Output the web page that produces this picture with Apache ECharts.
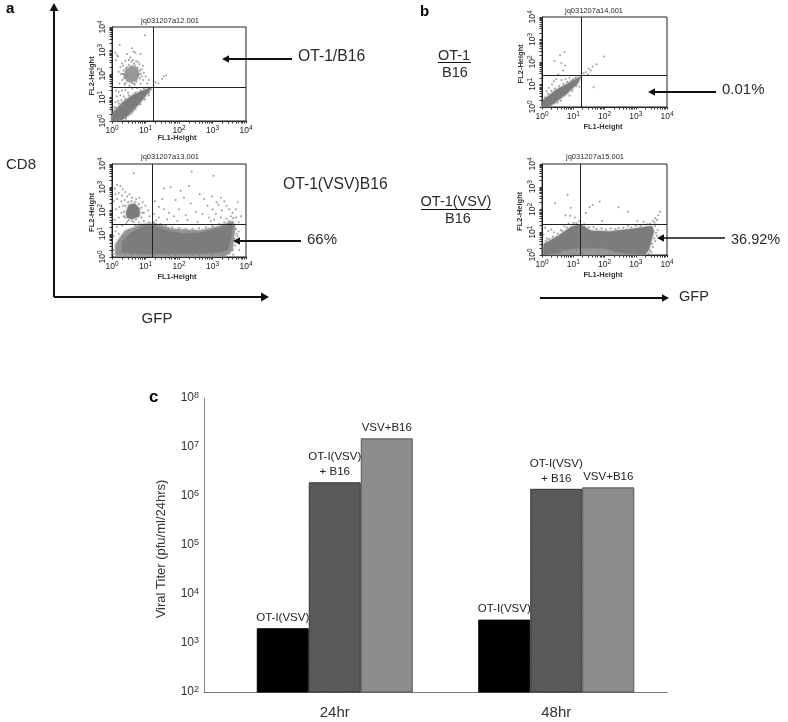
<!DOCTYPE html>
<html><head><meta charset="utf-8">
<style>html,body{margin:0;padding:0;background:#fff}#c{width:788px;height:722px;filter:blur(0.45px)}</style>
<script src="https://cdn.jsdelivr.net/npm/echarts@6/dist/echarts.min.js"></script>
</head><body><div id="c"></div>
<script>
// ---------- Bar panel c ----------
const timepoints = ['24hr', '48hr'];
const otVsv      = [2000, 3000];
const otVsvB16   = [1900000, 1400000];
const vsvB16     = [15000000, 1500000];
const barNames   = ['OT-I(VSV)', 'OT-I(VSV)\n+ B16', 'VSV+B16'];

// ---------- Flow panels: values are log10 decades of FL1 / FL2 ----------
const titles = ['jq031207a12.001', 'jq031207a13.001', 'jq031207a14.001', 'jq031207a15.001'];
const gates = [[1.22, 1.45], [1.21, 1.42], [1.27, 1.39], [1.23, 1.35]];
const decadeTicks = [0,.3,.48,.6,.7,.78,.85,.9,.95,1,1.3,1.48,1.6,1.7,1.78,1.85,1.9,1.95,2,2.3,2.48,2.6,2.7,2.78,2.85,2.9,2.95,3,3.3,3.48,3.6,3.7,3.78,3.85,3.9,3.95,4];

const denseA1 = [[[0,0],[0,.3],[.3,.78],[.63,1.12],[1.03,1.36],[1.21,1.46],[1.0,1.05],[.72,.6],[.43,.17],[.23,0]]];
const midA1 = [[[.36,1.85],[.4,2.15],[.58,2.36],[.76,2.24],[.82,2.0],[.74,1.72],[.52,1.64]]];
const specksA1 = [[.98,3.65],[.23,3.25],[.1,2.9],[.15,2.8],[.6,3.1],[.7,2.9],[.85,2.85],[.55,2.7],[.65,2.95],[.4,2.55],[.5,2.6],[.62,2.6],[.72,2.55],[.3,2.45],[.78,2.5],[.92,2.35],[.25,2.3],[.33,2.35],[.88,2.2],[.95,2.05],[.2,2.1],[.27,2.0],[1.0,1.9],[.93,1.75],[.3,1.75],[.22,1.6],[.38,1.55],[.52,1.5],[.68,1.55],[.85,1.58],[1.05,1.6],[1.1,1.75],[1.3,1.65],[1.38,1.6],[1.55,1.9],[1.62,1.95],[1.5,1.8],[.12,1.3],[.2,1.25],[.3,1.3],[.4,1.32],[.15,1.05],[.25,1.1],[.1,.8],[.18,.85],[.35,1.05],[.48,1.2],[.08,.6],[.05,.45],[.6,1.38],[.75,1.4],[1.15,1.35],[1.1,1.2],[.9,.9],[.8,.72],[.62,.4],[.5,.28],[.12,2.6],[.18,2.75],[.45,2.85],[.32,2.0],[.38,1.95],[.9,1.9],[.44,2.28],[.66,2.45],[.58,2.52],[.82,2.42],
  [.35,2.15],[.36,1.82],[.45,1.7],[.6,1.62],[.72,1.68],[.84,1.82],[.86,2.0],[.83,2.15],[.76,2.28],[.68,2.36],[.5,2.38],[.42,2.22],[.34,2.0],[.4,1.62],[.66,1.58],[.78,1.95],[.45,1.92],[.12,.55],[.2,.75],[.28,.88],[.4,.95],[.5,1.08],[.7,1.2],[.85,1.3],[.95,1.38],[.18,.5],[.32,.7],[.58,.32],[.7,.5],[.85,.72],[.98,.92],[1.1,1.1],[.3,.05],[.42,.1]];

const denseA2 = [[[.28,.2],[.31,.68],[.56,1.03],[.93,1.3],[1.21,1.36],[1.63,1.14],[2.13,1.0],[2.63,1.03],[3.13,1.22],[3.48,1.35],[3.62,1.42],[3.54,.72],[3.44,.28],[3.23,.2],[2.53,.16],[1.53,.14],[.83,.14]],
                 [[.42,1.9],[.5,2.25],[.68,2.3],[.82,2.08],[.82,1.75],[.6,1.62],[.44,1.7]]];
const midA2 = [[[.1,.06],[.1,.55],[.38,1.12],[.9,1.42],[1.3,1.44],[1.8,1.22],[2.6,1.14],[3.2,1.32],[3.6,1.55],[3.68,1.3],[3.6,.3],[3.4,.05],[.2,.05]]];
const specksA2 = [[.65,3.6],[2.38,3.68],[3.03,3.5],[1.55,2.95],[1.75,3.0],[2.05,2.85],[2.3,3.05],[2.62,2.7],[.08,2.95],[.15,3.1],[.25,3.05],[.32,2.9],[.4,2.8],[.1,2.7],[.2,2.75],[.3,2.65],[.45,2.6],[.52,2.7],[.6,2.55],[.72,2.5],[.82,2.55],[.15,2.5],[.28,2.4],[.38,2.45],[.05,2.4],[.92,2.35],[1.0,2.2],[1.08,2.0],[.95,1.9],[1.12,1.75],[.33,2.2],[.22,2.15],[.12,2.05],[.28,1.9],[.2,1.7],[.35,1.75],[.08,1.6],[1.28,2.4],[1.4,2.15],[1.55,2.05],[1.7,1.9],[1.85,1.75],[2.0,2.05],[2.2,1.8],[2.35,2.3],[2.5,1.95],[2.7,1.85],[2.85,2.2],[2.9,1.7],[3.0,2.05],[3.1,1.85],[3.18,2.25],[3.28,2.0],[3.12,2.35],[3.35,2.4],[3.42,2.2],[3.5,2.05],[3.6,1.9],[3.7,2.05],[3.75,2.35],[3.55,1.75],[3.42,1.65],[3.25,1.7],[2.95,1.55],[2.55,1.5],[2.25,1.6],[1.95,1.55],[1.65,1.62],[1.4,1.7],[1.25,1.85],[1.32,1.58],[1.5,2.5],[1.9,2.45],[2.15,2.55],[2.75,2.5],[2.98,2.6],[3.25,2.55],[3.05,1.6],[.05,.9],[.1,1.1],[.2,1.0],[.3,1.35],[.15,1.3],[.42,1.42],[.6,1.55],[.05,.3],[.03,.15],[3.75,.9],[3.78,1.1],[3.68,.5],[3.78,1.5],[3.85,1.75],[3.62,.1],[3.8,.3],[3.3,.06],[2.2,.05],[1.1,.06],
  [.36,1.95],[.4,2.2],[.48,2.35],[.58,2.4],[.7,2.38],[.8,2.28],[.88,2.12],[.9,1.9],[.88,1.7],[.72,1.6],[.5,1.58],[.38,1.7],[.45,1.52],[.65,1.5],[.8,1.5],[.95,1.55],[1.1,1.5],[1.25,1.5],[1.45,1.42],[1.6,1.36],[1.8,1.28],[2.0,1.25],[2.2,1.22],[2.4,1.2],[2.6,1.24],[2.8,1.28],[3.0,1.32],[3.2,1.42],[3.35,1.5],[3.5,1.55],[3.62,1.68],[3.7,1.7],[3.7,1.2],[3.72,1.0],[3.65,.8],[3.6,.3],[.16,.4],[.22,.7],[.32,.9],[.5,1.15],[.7,1.35],[.2,.2],[.4,.12],[.6,.1],[.8,.08],[1.3,.1],[1.5,.08],[1.7,.1],[1.9,.08],[2.4,.1],[2.6,.08],[2.8,.1],[3.0,.08],[3.5,.15]];

const denseB1 = [[[0,0],[.03,.3],[.41,.72],[.89,1.1],[1.27,1.39],[1.14,1.05],[.78,.58],[.35,.12],[.14,0]]];
const midB1 = [];
const specksB1 = [[.58,2.3],[.72,2.45],[.4,2.05],[.62,1.95],[.75,1.85],[.68,1.62],[.52,1.45],[.45,1.25],[.32,1.0],[.22,.85],[.15,.7],[.62,1.2],[.75,1.25],[.88,1.3],[1.0,1.25],[1.08,1.3],[1.1,.95],[1.2,.9],[1.4,1.55],[1.5,1.7],[1.62,1.8],[1.47,1.45],[1.75,1.9],[1.98,2.25],[1.65,.88],[.97,.72],[.88,.5],[.6,.28],[.5,.2],[.38,1.15],[.85,1.05],[1.12,1.18],[1.33,1.5],[1.56,1.62],
  [.1,.42],[.2,.58],[.3,.72],[.42,.82],[.55,.92],[.68,1.02],[.8,1.12],[.95,1.18],[1.05,1.0],[.9,.82],[.72,.55],[.55,.4],[.4,.18],[.28,.08],[.2,.02]];

const denseB2 = [[[.05,.02],[.05,.48],[.51,.84],[.94,1.24],[1.23,1.34],[1.57,1.07],[2.15,1.03],[2.91,1.15],[3.52,1.28],[3.58,1.03],[3.42,.24],[3.3,.03],[2.4,.12],[2.1,.28],[1.4,.33],[.75,.25],[.55,.1]]];
const midB2 = [[[.05,.02],[.05,.32],[.6,.42],[2.4,.42],[3.4,.32],[3.3,.02]]];
const specksB2 = [[.82,2.65],[.42,2.27],[.92,2.08],[.75,1.75],[.9,1.72],[1.05,1.65],[1.18,1.48],[1.4,1.85],[1.52,2.1],[1.62,2.2],[1.85,2.35],[2.45,2.1],[2.75,1.9],[1.92,1.5],[3.05,1.5],[3.25,1.45],[3.55,1.5],[3.62,1.62],[3.72,1.75],[3.78,1.9],[3.68,1.55],[3.6,1.42],[.1,1.2],[.05,.9],[.2,1.05],[.3,1.12],[.15,.72],[.38,1.0],[.6,1.1],[.72,1.25],[.85,1.38],[1.02,1.42],[1.35,1.25],[1.65,1.22],[1.9,1.18],[2.2,1.18],[2.45,1.2],[2.75,1.27],[3.0,1.3],[3.7,1.1],[3.68,.85],[3.62,.6],[3.55,.35],[3.5,.12],[.65,.35],[.85,.38],[1.2,.42],[1.6,.42],[1.9,.38],[2.3,.42],[2.6,.45],[2.9,.3],[.8,.18],[1.1,.22],[1.5,.22],[1.8,.18],
  [.12,.62],[.22,.7],[.35,.8],[.5,.95],[.65,1.05],[.8,1.2],[.98,1.35],[1.1,1.4],[1.35,1.35],[1.5,1.22],[1.75,1.14],[2.05,1.12],[2.35,1.14],[2.6,1.2],[2.85,1.22],[3.15,1.28],[3.35,1.35],[3.45,1.38],[3.62,1.28],[3.65,.98],[3.6,.72],[3.52,.5],[3.46,.2],[3.42,.05],[3.2,.1],[2.9,.12],[2.65,.2],[2.5,.3],[.4,.06],[.6,.18],[.95,.3],[1.35,.25],[1.7,.3],[2.0,.35],[2.15,.12],[1.3,.08],[1.0,.1],[.25,.1]];

// ---------- Panel pixel frames ----------
const frames = [
  {l:112,t:27,w:134,h:94,dx:92,titleX:170,titleY:21,nameX:177,nameY:138},
  {l:112,t:164,w:134,h:93,dx:92,titleX:170,titleY:157,nameX:177,nameY:277},
  {l:542,t:17,w:125,h:90,dx:521,titleX:594,titleY:11,nameX:603,nameY:127},
  {l:542,t:164,w:125,h:91,dx:520,titleX:595,titleY:157,nameX:603,nameY:275}
];
const flow = [
  {dense:denseA1, mid:midA1, specks:specksA1},
  {dense:denseA2, mid:midA2, specks:specksA2},
  {dense:denseB1, mid:midB1, specks:specksB1},
  {dense:denseB2, mid:midB2, specks:specksB2}
];

const FONT = '"Liberation Sans", Arial, sans-serif';
const grids = [], xAxes = [], yAxes = [], series = [];
const powerLabel = v => '{b|10}{s|' + v + '}';
const flowRich = {b:{fontSize:8.5,fontFamily:FONT,color:'#222'}, s:{fontSize:6.5,fontFamily:FONT,color:'#222',verticalAlign:'bottom',padding:[0,0,4,0]}};

function polygonSeries(polys, color, i) {
  return {
    type:'custom', coordinateSystem:'cartesian2d', xAxisIndex:i, yAxisIndex:i, silent:true, z:2,
    data: polys.map((p,k)=>[k, 0]),
    renderItem(params, api){
      const pts = polys[api.value(0)].map(p=>api.coord(p));
      return {type:'polygon', shape:{points:pts}, style:{fill:color, shadowBlur:3, shadowColor:color}};
    }
  };
}
frames.forEach((f,i)=>{
  grids.push({left:f.l, top:f.t, width:f.w, height:f.h, show:true, borderColor:'#222', borderWidth:1, backgroundColor:'transparent'});
  const axisBase = {type:'value', min:0, max:4, interval:1, splitLine:{show:false}, gridIndex:i,
    axisLine:{show:true, lineStyle:{color:'#222',width:1}},
    axisTick:{show:true, customValues:decadeTicks, length:2.5, lineStyle:{color:'#333',width:1}}};
  xAxes.push({...axisBase, axisLabel:{margin:4, formatter:powerLabel, rich:flowRich, showMinLabel:true, showMaxLabel:true}});
  yAxes.push({...axisBase, axisLabel:{margin:4, rotate:90, formatter:powerLabel, rich:flowRich, showMinLabel:true, showMaxLabel:true}});
  const d = flow[i];
  if (d.mid.length) series.push(polygonSeries(d.mid,'#979797',i));
  series.push(polygonSeries(d.dense,'#7c7c7c',i));
  series.push({type:'scatter', xAxisIndex:i, yAxisIndex:i, data:d.specks, symbolSize:2, silent:true, z:3,
    itemStyle:{color:'#858585'},
    markLine:{silent:true, symbol:'none', label:{show:false}, animation:false,
      lineStyle:{color:'#222',width:1,type:'solid'}, emphasis:{disabled:true},
      data:[{xAxis:gates[i][0]},{yAxis:gates[i][1]}]}});
});

// Frame grid for panel c: owns the axis lines
const AX = 4, BX = 5;
grids.push({left:204, top:398, width:463, height:294});
xAxes.push({gridIndex:AX, type:'value', min:0, max:1, show:true,
  axisLine:{show:true,onZero:false,lineStyle:{color:'#777',width:1}}, axisTick:{show:false}, axisLabel:{show:false}, splitLine:{show:false}});
yAxes.push({gridIndex:AX, type:'log', logBase:10, min:100, max:100000000,
  axisLine:{show:true,lineStyle:{color:'#888',width:1}}, axisTick:{show:false}, splitLine:{show:false}, minorSplitLine:{show:false},
  name:'Viral Titer (pfu/ml/24hrs)', nameLocation:'middle', nameGap:36, nameRotate:90,
  nameTextStyle:{fontFamily:FONT,fontSize:13,color:'#333',padding:[0,8,0,0]},
  axisLabel:{margin:5, color:'#333', formatter:v=>'{b|10}{s|'+Math.round(Math.log10(v))+'}',
    rich:{b:{fontSize:12,fontFamily:FONT,color:'#333'}, s:{fontSize:9,fontFamily:FONT,color:'#333',verticalAlign:'bottom',padding:[0,0,4,0]}}}});
// Bars grid: centres of the two bar groups sit on this category scale
grids.push({left:224, top:398, width:443, height:294});
xAxes.push({gridIndex:BX, type:'category', data:timepoints, axisLine:{show:false}, axisTick:{show:false},
  axisLabel:{margin:13, fontFamily:FONT, fontSize:15, color:'#333'}});
yAxes.push({gridIndex:BX, type:'log', logBase:10, min:100, max:100000000, show:false, splitLine:{show:false}});

function hatchPattern(){
  const c = document.createElement('canvas'); c.width = 3; c.height = 3;
  const g = c.getContext('2d');
  g.fillStyle = '#5e5e5e'; g.fillRect(0,0,3,3);
  g.fillStyle = '#505050'; g.fillRect(0,2,1,1); g.fillRect(1,1,1,1); g.fillRect(2,0,1,1);
  return c;
}
const barLabel = n => ({show:true, position:'top', distance:3, formatter:n, fontFamily:FONT, fontSize:11.5, lineHeight:15, color:'#222'});
const barStyles = [
  {color:'#000', borderColor:'#000', borderWidth:1},
  {color:{image:hatchPattern(), repeat:'repeat'}, borderColor:'#333', borderWidth:1},
  {color:'#8d8d8d', borderColor:'#555', borderWidth:1}
];
[otVsv, otVsvB16, vsvB16].forEach((vals,k)=>{
  series.push({type:'bar', name:barNames[k], xAxisIndex:BX, yAxisIndex:BX, data:vals, barWidth:52, barGap:'0%', silent:true,
    itemStyle:barStyles[k], label:barLabel(barNames[k]), z:2});
});

// ---------- Annotation text and arrows ----------
const text = (x,y,s,size,align,weight,color) => ({type:'text', x, y, silent:true, z:10,
  style:{text:s, font:(weight||'normal')+' '+size+'px '+FONT, fill:color||'#2a2a2a', align:align||'left', verticalAlign:'middle'}});
const rule = (x1,y1,x2,y2,w,color) => ({type:'line', silent:true, z:10, shape:{x1,y1,x2,y2}, style:{stroke:color||'#111', lineWidth:w||1}});
function arrow(x1,y1,x2,y2,w,head){
  const a = Math.atan2(y2-y1,x2-x1), h = head||6, s = h*0.55;
  const bx = x2-h*Math.cos(a), by = y2-h*Math.sin(a);
  return [rule(x1,y1,bx,by,w||2), {type:'polygon', silent:true, z:10,
    shape:{points:[[x2,y2],[bx+s*Math.sin(a),by-s*Math.cos(a)],[bx-s*Math.sin(a),by+s*Math.cos(a)]]}, style:{fill:'#111'}}];
}
const g = [];
g.push(text(6,9,'a',15,'left','bold','#000'), text(420,12,'b',15,'left','bold','#000'), text(149,397,'c',17,'left','bold','#000'));
g.push(...arrow(54,297,54,3,2,8), ...arrow(54,297,269,297,2,8));
g.push(text(6,165,'CD8',15), text(157,319,'GFP',15,'center'));
g.push(...arrow(292,59,222,59,2,7), text(298,57,'OT-1/B16',15.7));
g.push(text(283,185,'OT-1(VSV)B16',15.7));
g.push(...arrow(301,241,233,241,2,7), text(307,240,'66%',15));
g.push(text(454,56,'OT-1',14.5,'center'), rule(438,62.5,471,62.5,1), text(455,73,'B16',14.5,'center'));
g.push(...arrow(716,92,648,92,2,7), text(722,90,'0.01%',15));
g.push(text(456,202,'OT-1(VSV)',14.5,'center'), rule(421,209.5,491,209.5,1), text(458,219,'B16',14.5,'center'));
g.push(...arrow(725,238,657,238,1.5,7), text(731,240,'36.92%',14.5));
g.push(...arrow(540,298,669,298,2,7), text(679,297,'GFP',14.5));
frames.forEach((f,i)=>{
  g.push(text(f.titleX,f.titleY,titles[i],7.5,'center'));
  g.push(text(f.nameX,f.nameY,'FL1-Height',7.5,'center','bold','#333'));
  const yc = f.t + f.h*0.52;
  g.push({type:'text', x:f.dx, y:yc, rotation:Math.PI/2, silent:true, z:10,
    style:{text:'FL2-Height', font:'bold 7.5px '+FONT, fill:'#333', align:'center', verticalAlign:'middle'}});
});

const chart = echarts.init(document.getElementById('c'), null, {renderer:'canvas'});
chart.setOption({animation:false, backgroundColor:'#fff', grid:grids, xAxis:xAxes, yAxis:yAxes, series, graphic:{elements:g}});
</script></body></html>
